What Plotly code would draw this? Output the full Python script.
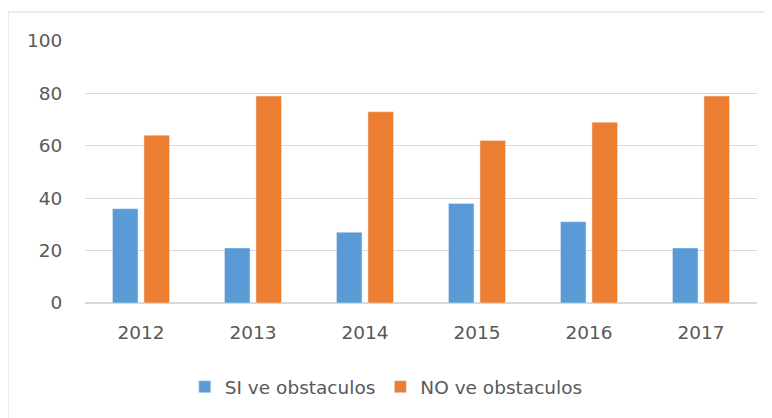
import plotly.graph_objects as go

years = ["2012", "2013", "2014", "2015", "2016", "2017"]
si_values = [36, 21, 27, 38, 31, 21]
no_values = [64, 79, 73, 62, 69, 79]
series_names = ["SI ve obstaculos", "NO ve obstaculos"]
y_ticks = [0, 20, 40, 60, 80, 100]

FONT = "DejaVu Sans"
TXT = "#595959"
GRID = "#D9D9D9"

fig = go.Figure()
fig.add_trace(go.Bar(x=years, y=si_values, name=series_names[0], marker_color="#5B9BD5"))
fig.add_trace(go.Bar(x=years, y=no_values, name=series_names[1], marker_color="#ED7D31"))

fig.update_layout(
    width=772, height=418,
    margin=dict(l=77, r=23, t=33, b=123),
    paper_bgcolor="white", plot_bgcolor="white",
    barmode="group", bargap=0.4375, bargroupgap=0.19,
    font=dict(family=FONT, size=18.5, color=TXT),
    showlegend=True,
    legend=dict(orientation="h", xref="container", yref="container",
                x=0.49, xanchor="center", y=0.093, yanchor="middle",
                font=dict(family=FONT, size=18.5, color=TXT),
                itemwidth=30, traceorder="normal"),
    xaxis=dict(showgrid=False, showline=False, zeroline=False,
               ticks="outside", ticklen=13, tickcolor="rgba(0,0,0,0)",
               tickfont=dict(family=FONT, size=18.5, color=TXT)),
    yaxis=dict(range=[0, 100], tickvals=y_ticks, showgrid=True, gridcolor=GRID, gridwidth=1,
               zeroline=True, zerolinecolor=GRID, zerolinewidth=1.5, showline=False,
               ticks="outside", ticklen=18, tickcolor="rgba(0,0,0,0)",
               tickfont=dict(family=FONT, size=18.5, color=TXT)),
    shapes=[dict(type="rect", xref="paper", yref="paper",
                 x0=-0.1146, x1=1.05, y0=-0.5, y1=1.1107,
                 line=dict(color=GRID, width=1), fillcolor="rgba(0,0,0,0)", layer="below")],
)

fig.write_html("out.html")
